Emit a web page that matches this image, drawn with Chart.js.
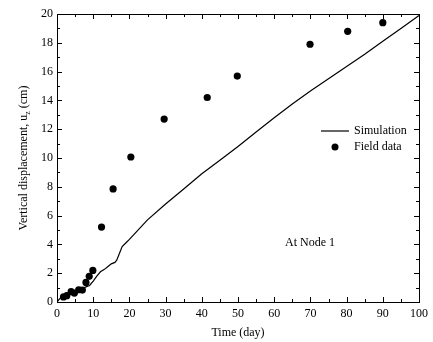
<!DOCTYPE html>
<html>
<head>
<meta charset="utf-8">
<script src="https://cdn.jsdelivr.net/npm/chart.js@4.4.0/dist/chart.umd.min.js"></script>
<style>
html,body{margin:0;padding:0;background:#fff;}
#wrap{width:433px;height:342px;}
</style>
</head>
<body>
<div id="wrap"><canvas id="c" width="433" height="342"></canvas></div>
<script>
// ---- data ----
const simDays = [0,1,2,3,4,5,6,7,8,9,10,11,12,13,14,15,16,16.5,18,19,20,25,30,35,40,45,50,55,60,65,70,75,80,85,90,95,100];
const simDisp = [0,0.3,0.45,0.55,0.65,0.75,0.85,0.95,1.05,1.15,1.45,1.8,2.1,2.25,2.45,2.65,2.75,2.9,3.85,4.1,4.35,5.7,6.8,7.85,8.9,9.85,10.8,11.8,12.8,13.75,14.65,15.5,16.35,17.2,18.1,19.0,19.9];
const fieldDays = [1.8,2.7,3.9,4.8,6.0,7.0,8.0,8.9,9.9,12.3,15.5,20.4,29.6,41.5,49.8,69.9,80.3,90.0];
const fieldDisp = [0.35,0.44,0.72,0.62,0.85,0.83,1.36,1.78,2.19,5.2,7.85,10.07,12.7,14.2,15.69,17.9,18.8,19.4];
const xTickValues = [0,10,20,30,40,50,60,70,80,90,100];
const yTickValues = [0,2,4,6,8,10,12,14,16,18,20];
const xMinorStep = 5;
const yMinorStep = 1;
const seriesNames = ['Simulation','Field data'];
const xTitle = 'Time (day)';
const yTitleParts = ['Vertical displacement, u', 'z', ' (cm)'];
const annotationText = 'At Node 1';

const FONT = '"Liberation Serif", "Times New Roman", serif';

const frame = {
  id: 'frame',
  afterDraw(chart) {
    const {ctx, chartArea: a, scales} = chart;
    const xs = scales.x, ys = scales.y;
    ctx.save();
    ctx.strokeStyle = '#000';
    ctx.lineWidth = 1;
    ctx.strokeRect(Math.round(a.left)+0.5, Math.round(a.top)+0.5, Math.round(a.right-a.left), Math.round(a.bottom-a.top));
    ctx.beginPath();
    for (let v = xs.min; v <= xs.max + 1e-9; v += xMinorStep) {
      const px = Math.round(xs.getPixelForValue(v)) + 0.5;
      const len = xTickValues.includes(v) ? 5 : 3;
      ctx.moveTo(px, a.bottom); ctx.lineTo(px, a.bottom - len);
      ctx.moveTo(px, a.top); ctx.lineTo(px, a.top + len);
    }
    for (let v = ys.min; v <= ys.max + 1e-9; v += yMinorStep) {
      const py = Math.round(ys.getPixelForValue(v)) + 0.5;
      const len = yTickValues.includes(v) ? 5 : 3;
      ctx.moveTo(a.left, py); ctx.lineTo(a.left + len, py);
      ctx.moveTo(a.right, py); ctx.lineTo(a.right - len, py);
    }
    ctx.stroke();

    // y title with subscript
    ctx.fillStyle = '#000';
    ctx.textBaseline = 'middle';
    const f = '12px ' + FONT, fs = '8px ' + FONT;
    ctx.font = f; const w0 = ctx.measureText(yTitleParts[0]).width;
    const w2 = ctx.measureText(yTitleParts[2]).width;
    ctx.font = fs; const w1 = ctx.measureText(yTitleParts[1]).width;
    const total = w0 + w1 + w2;
    ctx.save();
    ctx.translate(24, (a.top + a.bottom) / 2);
    ctx.rotate(-Math.PI / 2);
    ctx.textAlign = 'left';
    let x0 = -total / 2;
    ctx.font = f; ctx.fillText(yTitleParts[0], x0, 0);
    ctx.font = fs; ctx.fillText(yTitleParts[1], x0 + w0, 4);
    ctx.font = f; ctx.fillText(yTitleParts[2], x0 + w0 + w1, 0);
    ctx.restore();

    // legend
    ctx.font = f;
    ctx.textAlign = 'left';
    ctx.beginPath();
    ctx.lineWidth = 1.2;
    ctx.moveTo(321, 131); ctx.lineTo(349, 131);
    ctx.stroke();
    ctx.fillText(seriesNames[0], 354, 131);
    ctx.beginPath();
    ctx.arc(335, 147, 3.5, 0, Math.PI * 2);
    ctx.fill();
    ctx.fillText(seriesNames[1], 354, 147);

    // annotation
    ctx.fillText(annotationText, 285, 243);
    ctx.restore();
  }
};

new Chart(document.getElementById('c'), {
  type: 'scatter',
  data: {
    datasets: [
      {
        label: seriesNames[0],
        data: simDays.map((d, i) => ({x: d, y: simDisp[i]})),
        showLine: true,
        borderColor: '#000',
        borderWidth: 1.2,
        pointRadius: 0,
        tension: 0,
        fill: false
      },
      {
        label: seriesNames[1],
        data: fieldDays.map((d, i) => ({x: d, y: fieldDisp[i]})),
        showLine: false,
        pointRadius: 3.6,
        pointBackgroundColor: '#000',
        pointBorderColor: '#000',
        pointBorderWidth: 0
      }
    ]
  },
  options: {
    responsive: false,
    animation: false,
    devicePixelRatio: 1,
    layout: {padding: {left: 0, right: 10, top: 14, bottom: 0}},
    plugins: {legend: {display: false}, tooltip: {enabled: false}},
    scales: {
      x: {
        type: 'linear', position: 'bottom', min: 0, max: 100,
        afterBuildTicks: s => { s.ticks = xTickValues.map(v => ({value: v})); },
        afterFit: s => { s.height = 40; },
        grid: {display: false, drawTicks: false},
        border: {display: true, color: '#000', width: 1},
        ticks: {color: '#000', padding: 5, maxRotation: 0, autoSkip: false, font: {family: FONT, size: 12}},
        title: {display: true, text: xTitle, color: '#000', font: {family: FONT, size: 12}, padding: {top: 0, bottom: 2}}
      },
      y: {
        type: 'linear', position: 'left', min: 0, max: 20,
        afterBuildTicks: s => { s.ticks = yTickValues.map(v => ({value: v})); },
        afterFit: s => { s.width = 57; },
        grid: {display: false, drawTicks: false},
        border: {display: true, color: '#000', width: 1},
        ticks: {color: '#000', padding: 4, autoSkip: false, font: {family: FONT, size: 12}}
      }
    }
  },
  plugins: [frame]
});
</script>
</body>
</html>
